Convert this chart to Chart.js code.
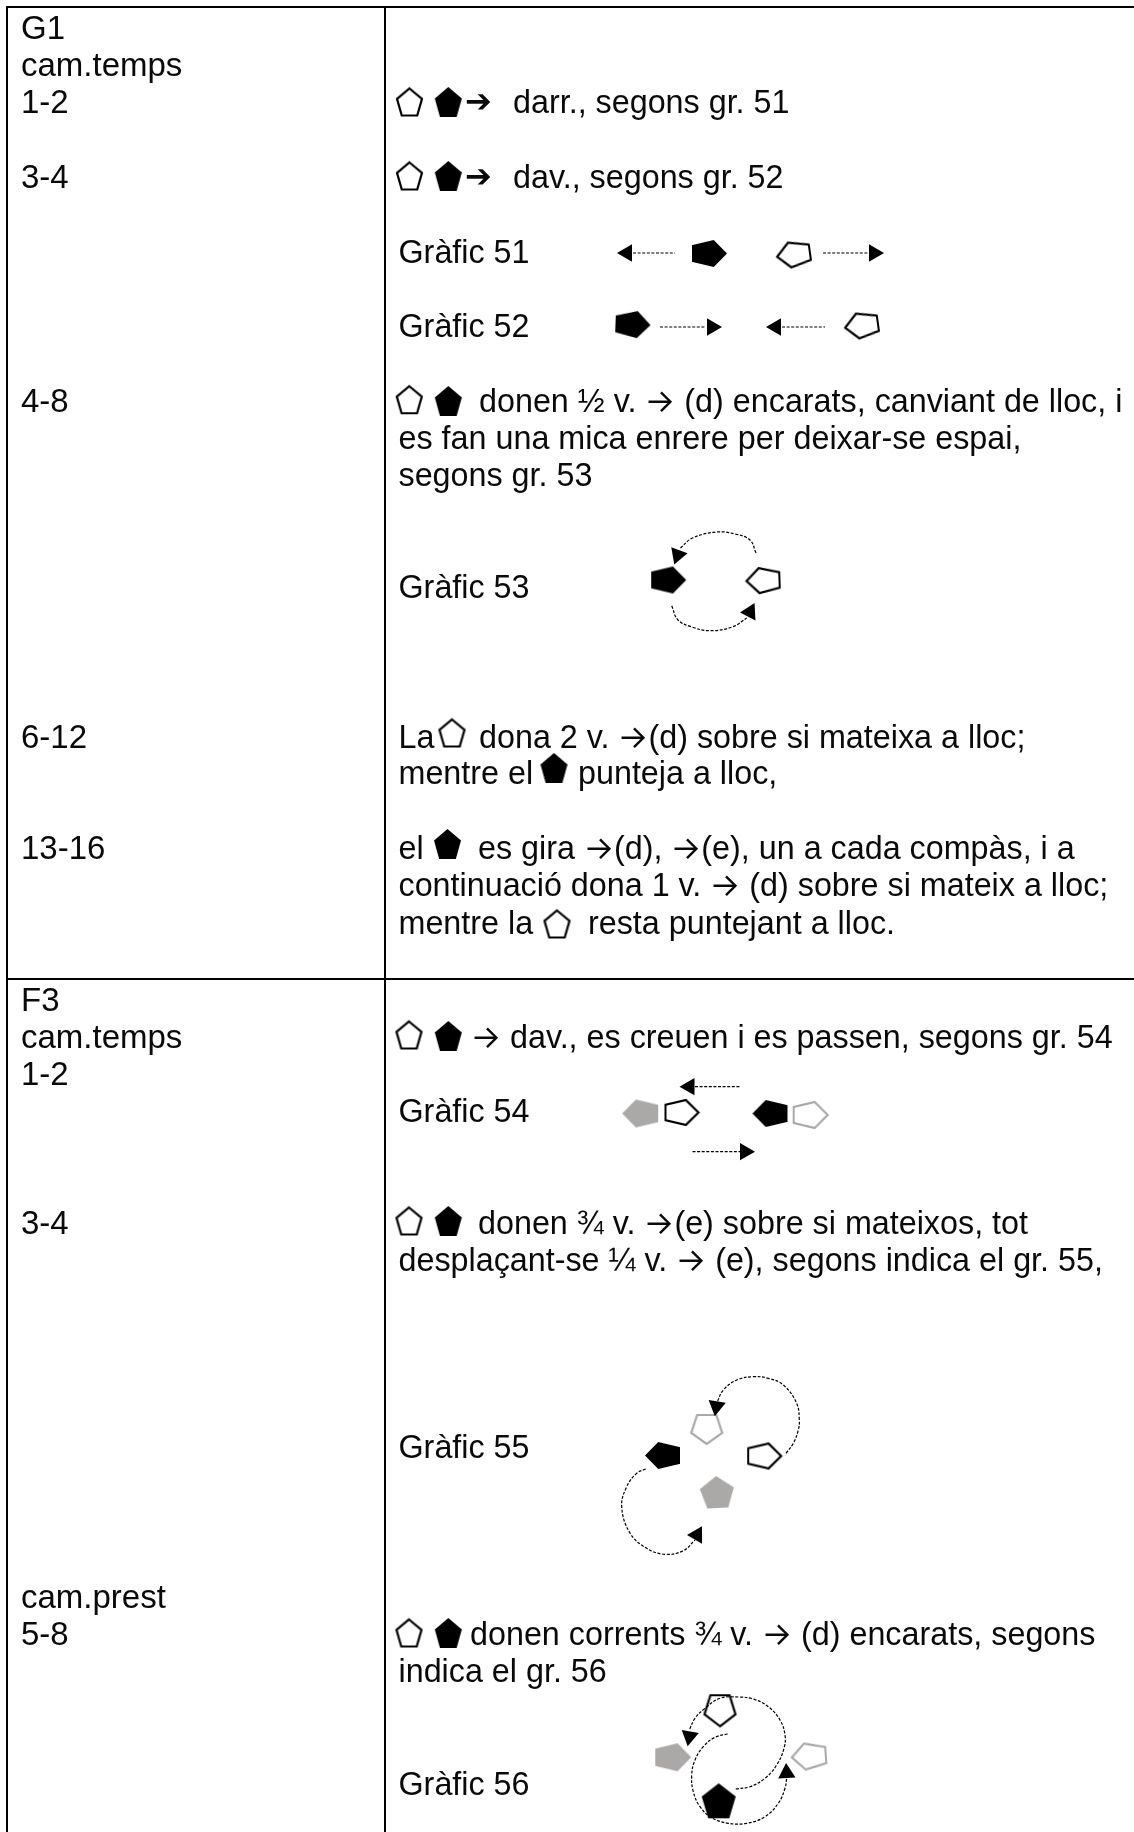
<!DOCTYPE html>
<html>
<head>
<meta charset="utf-8">
<title>G1 / F3</title>
<script src="https://cdn.jsdelivr.net/npm/chart.js@4"></script>
<style>
  @font-face { font-family: "ArrowFace"; src: local("Inter"), local("Inter Regular"), local("DejaVu Sans"); unicode-range: U+2192; }
  html, body { margin: 0; padding: 0; background: #fff; }
  #page { position: relative; width: 1134px; height: 1832px; overflow: hidden; }
  #board { position: absolute; left: 0; top: 0; }
  .line { position: absolute; white-space: pre; color: #0a0a0a; line-height: 38px; height: 38px;
          font-family: "ArrowFace", "Liberation Sans", Arial, sans-serif; font-size: 32.3px; }
  .line.time { font-size: 33px; }
</style>
</head>
<body>
<div id="page"><canvas id="board" width="1134" height="1832"></canvas></div>
<script>
// Left column: time marks
const timeLabels = ["G1", "cam.temps", "1-2", "3-4", "4-8", "6-12", "13-16", "F3", "cam.temps", "1-2", "3-4", "cam.prest", "5-8"];
const timeLabelY = [28, 65, 102, 177, 400.5, 736.5, 848, 1000, 1037, 1073.5, 1223, 1597, 1633.5];

// Right column: text runs, pieces are split where a pentagon sits inside the sentence
const bodyText = [
  "➔", "darr., segons gr. 51", "➔", "dav., segons gr. 52",
  "Gràfic 51", "Gràfic 52",
  "donen ½ v. → (d) encarats, canviant de lloc, i",
  "es fan una mica enrere per deixar-se espai,", "segons gr. 53", "Gràfic 53",
  "La", "dona 2 v. →(d) sobre si mateixa a lloc;", "mentre el", "punteja a lloc,",
  "el", "es gira →(d), →(e), un a cada compàs, i a",
  "continuació dona 1 v. → (d) sobre si mateix a lloc;",
  "mentre la", "resta puntejant a lloc.",
  "→ dav., es creuen i es passen, segons gr. 54", "Gràfic 54",
  "donen ¾ v. →(e) sobre si mateixos, tot",
  "desplaçant-se ¼ v. → (e), segons indica el gr. 55,", "Gràfic 55",
  "donen corrents ¾ v. → (d) encarats, segons", "indica el gr. 56", "Gràfic 56"
];
const bodyX = [
  465, 513, 465, 513,
  398.5, 398.5,
  479,
  398.5, 398.5, 398.5,
  398.5, 479, 398.5, 578,
  398.5, 478,
  398.5,
  398.5, 588,
  471, 398.5,
  478,
  398.5, 398.5,
  470, 398.5, 398.5
];
const bodyY = [
  101, 102, 176, 177,
  252, 326,
  400.5,
  438, 475, 587,
  736.5, 736.5, 773, 773,
  848, 848,
  885,
  923, 923,
  1037, 1111,
  1223,
  1260, 1447,
  1633.5, 1671, 1784
];

// Pentagons: [x, y, turn in degrees]
const inlineOpen = [[409.5, 102, 0], [409.5, 176, 0], [409.3, 399.7, 0], [452, 733, 0], [557, 924, 0], [409, 1035, 0], [409, 1221, 0], [409, 1633, 0]];
const inlineFilled = [[448.3, 102, 0], [448.3, 176, 0], [448.3, 401, 0], [554, 768, 0], [447.5, 844, 0], [448.3, 1036, 0], [448.3, 1221, 0], [448.3, 1633, 0]];
const sideOpen = [[793.5, 254.5, 262], [861.5, 325.5, 262], [763, 580.5, 268], [682, 1112.5, 90], [764.7, 1456, 90]];
const sideFilled = [[709.5, 253.5, 90], [633, 324.5, 92], [668.7, 580, 90], [770, 1113.5, 270], [662.5, 1455.5, 270]];
const sideGreyOpen = [[810.7, 1115, 90], [808.8, 1756.3, 266]];
const sideGreyFilled = [[640.2, 1113.5, 270], [673.3, 1757.3, 90]];
const uprightOpen = [[720, 1710.8, 180]];
const uprightFilled = [[718.7, 1800.8, 0]];
const uprightGreyOpen = [[706.8, 1429.5, 180]];
const uprightGreyFilled = [[717, 1492, 357]];

// Arrow heads: [x, y, turn in degrees]
const arrowHeads = [
  [627, 253, 270], [874, 253, 90], [712, 327, 90], [776, 327, 270],
  [677.7, 555, 200], [750, 612, 27],
  [689.5, 1086.7, 270], [745, 1151.7, 90],
  [716.4, 1406.4, 189], [697, 1535, 30],
  [689.4, 1736.4, 190], [786.6, 1773, 357]
];

// Dotted routes between the dancers
const routes = [
  [[633, 253], [675, 253]],
  [[823, 253], [868, 253]],
  [[660, 327], [706, 327]],
  [[782, 327], [825, 327]],
  [[756, 553], [750, 540], [735, 534], [716.5, 532], [692.5, 538], [680.5, 548]],
  [[671.7, 605.7], [678, 620], [692, 627], [710, 630.7], [733, 626.7], [746.7, 618]],
  [[695, 1086.7], [739.6, 1086.7]],
  [[692.5, 1151.7], [740.6, 1151.7]],
  [[786, 1453.3], [793.3, 1443.3], [798.3, 1430], [799.3, 1420], [796.7, 1403.3], [783.3, 1385], [768.3, 1378.3], [753.3, 1376.7], [736.7, 1380], [723.3, 1390], [717.3, 1401.7]],
  [[645.7, 1469], [636.7, 1473.3], [626.7, 1486.7], [621.7, 1506.7], [630, 1533], [646.7, 1548.3], [665, 1554.3], [683.3, 1550.7], [695, 1540]],
  [[735.7, 1789], [750, 1786.7], [765, 1778.3], [776.7, 1765], [784, 1748.3], [785, 1735], [780, 1720], [768.3, 1706.7], [753.3, 1699], [738.3, 1697], [720, 1698.3], [705, 1708.3], [695, 1718.3], [689.3, 1730]],
  [[727.7, 1734], [715, 1737.3], [703.3, 1746.7], [695, 1760], [691.7, 1775], [693.3, 1791.7], [700, 1806.7], [711.7, 1817.7], [728.3, 1823.3], [746.7, 1823.3], [765, 1816.7], [778.3, 1803.3], [785, 1788.3], [786.7, 1778.3]]
];

// Table rules
const rules = [
  [[7, 6], [7, 1832]],
  [[385, 7], [385, 1832]],
  [[6, 7], [1134, 7]],
  [[6, 979], [1134, 979]]
];

const BLACK = "#000000";
const GREY = "#aba8a8";

// Helper: pentagon drawn into a small canvas, tip up, fitted in a w x h box
function pentagonSprite(w, h, color, filled) {
  const c = document.createElement("canvas");
  c.width = w + 6;
  c.height = h + 6;
  const g = c.getContext("2d");
  const pts = [];
  for (let i = 0; i < 5; i++) {
    const a = (-90 + 72 * i) * Math.PI / 180;
    pts.push([Math.cos(a), Math.sin(a)]);
  }
  const inset = filled ? 0 : 2;
  const sx = (w - inset) / 2 / Math.cos(18 * Math.PI / 180);
  const sy = (h - inset) / (1 + Math.cos(36 * Math.PI / 180));
  const top = 3 + inset / 2;
  g.beginPath();
  pts.forEach((p, i) => {
    const px = c.width / 2 + p[0] * sx;
    const py = top + (p[1] + 1) * sy;
    if (i === 0) g.moveTo(px, py);
    else g.lineTo(px, py);
  });
  g.closePath();
  if (filled) {
    g.fillStyle = color;
    g.fill();
  } else {
    g.strokeStyle = color;
    g.lineWidth = 2.2;
    g.stroke();
  }
  return c;
}

function toPoints(list) {
  return list.map((p) => ({ x: p[0], y: p[1] }));
}

function pentagonSet(list, sprite) {
  return {
    type: "scatter",
    data: toPoints(list),
    showLine: false,
    pointStyle: sprite,
    pointRotation: list.map((p) => p[2]),
    clip: false,
  };
}

function lineSet(list, opts) {
  return Object.assign({
    type: "line",
    data: toPoints(list),
    borderColor: BLACK,
    pointRadius: 0,
    fill: false,
    clip: false,
  }, opts);
}

const datasets = [];
rules.forEach((r) => datasets.push(lineSet(r, { borderWidth: 2 })));
routes.forEach((r) => datasets.push(lineSet(r, { borderWidth: 1.2, borderDash: [3, 1.6], tension: r.length > 2 ? 0.4 : 0 })));
datasets.push({
  type: "scatter",
  data: toPoints(arrowHeads),
  showLine: false,
  pointStyle: "triangle",
  pointRadius: 10,
  pointBorderWidth: 0,
  pointBackgroundColor: BLACK,
  pointRotation: arrowHeads.map((p) => p[2]),
  clip: false,
});
datasets.push(pentagonSet(inlineOpen, pentagonSprite(27, 29, BLACK, false)));
datasets.push(pentagonSet(inlineFilled, pentagonSprite(27, 30, BLACK, true)));
datasets.push(pentagonSet(sideOpen, pentagonSprite(27, 35, BLACK, false)));
datasets.push(pentagonSet(sideFilled, pentagonSprite(27, 35, BLACK, true)));
datasets.push(pentagonSet(sideGreyOpen, pentagonSprite(28, 36, GREY, false)));
datasets.push(pentagonSet(sideGreyFilled, pentagonSprite(28, 36, GREY, true)));
datasets.push(pentagonSet(uprightOpen, pentagonSprite(33, 33, BLACK, false)));
datasets.push(pentagonSet(uprightFilled, pentagonSprite(34, 35, BLACK, true)));
datasets.push(pentagonSet(uprightGreyOpen, pentagonSprite(33, 31, GREY, false)));
datasets.push(pentagonSet(uprightGreyFilled, pentagonSprite(34, 32, GREY, true)));

const chart = new Chart(document.getElementById("board").getContext("2d"), {
  type: "scatter",
  data: { datasets: datasets },
  options: {
    animation: false,
    responsive: false,
    layout: { padding: 0, autoPadding: false },
    events: [],
    scales: {
      x: { type: "linear", min: 0, max: 1134, display: false },
      y: { type: "linear", min: 0, max: 1832, reverse: true, display: false },
    },
    plugins: {
      legend: { display: false },
      tooltip: { enabled: false },
    },
  },
});

// Text goes on top as real text, placed through the chart's scales
function addLine(text, x, y, extraClass) {
  const el = document.createElement("div");
  el.className = "line" + (extraClass ? " " + extraClass : "");
  el.textContent = text;
  el.style.left = chart.scales.x.getPixelForValue(x) + "px";
  el.style.top = chart.scales.y.getPixelForValue(y) - 19 + "px";
  document.getElementById("page").appendChild(el);
}

timeLabels.forEach((t, i) => addLine(t, 21, timeLabelY[i], "time"));
bodyText.forEach((t, i) => addLine(t, bodyX[i], bodyY[i]));
</script>
</body>
</html>
